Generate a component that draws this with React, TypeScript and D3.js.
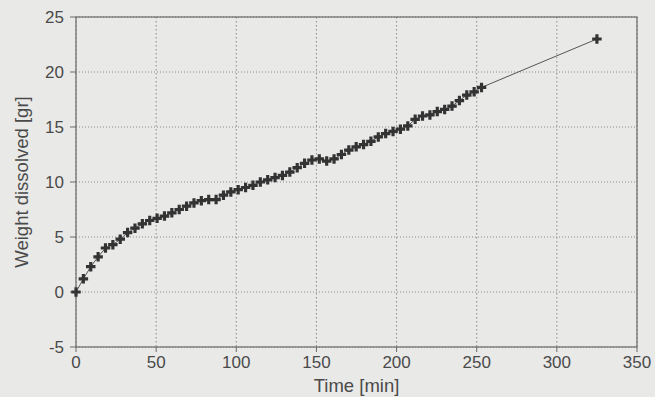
import React from "react";
import * as d3 from "d3";

const times: number[] = [0, 4.6, 9.2, 13.8, 18.4, 23, 27.6, 32.2, 36.8, 41.4, 46, 50.6, 55.2, 59.8, 64.4, 69, 73.6, 78.2, 82.8, 87.4, 92, 96.6, 101.2, 105.8, 110.4, 115, 119.6, 124.2, 128.8, 133.4, 138, 142.6, 147.2, 151.8, 156.4, 161, 165.6, 170.2, 174.8, 179.4, 184, 188.6, 193.2, 197.8, 202.4, 207, 211.6, 216.2, 220.8, 225.4, 230, 234.6, 239.2, 243.8, 248.4, 253, 325];
const weights: number[] = [0, 1.2, 2.3, 3.2, 4.0, 4.3, 4.8, 5.4, 5.8, 6.2, 6.5, 6.7, 6.9, 7.2, 7.5, 7.8, 8.1, 8.3, 8.4, 8.4, 8.8, 9.1, 9.3, 9.5, 9.7, 10.0, 10.2, 10.4, 10.6, 10.9, 11.3, 11.7, 12.0, 12.1, 11.9, 12.1, 12.5, 12.9, 13.2, 13.4, 13.7, 14.1, 14.4, 14.6, 14.8, 15.1, 15.7, 16.0, 16.1, 16.4, 16.6, 16.9, 17.4, 17.9, 18.2, 18.6, 23.0];
const xTicks: number[] = [0, 50, 100, 150, 200, 250, 300, 350];
const yTicks: number[] = [-5, 0, 5, 10, 15, 20, 25];
const xLabel = "Time [min]";
const yLabel = "Weight dissolved [gr]";

const W = 655;
const H = 397;
const L = 76, R = 637, T = 17, B = 347;

export default function App() {
  const x = d3.scaleLinear().domain([0, 350]).range([L, R]);
  const y = d3.scaleLinear().domain([-5, 25]).range([B, T]);
  const pts = times.map((t, i) => [t, weights[i]] as [number, number]);
  const line = d3.line<[number, number]>().x(d => x(d[0])).y(d => y(d[1]))(pts) || "";
  const sym = d3.symbol().type(d3.symbolCross).size(50)() || "";
  const textColor = "#4a4a4a";
  const font = "'Liberation Sans', Arial, sans-serif";
  return (
    <div style={{ position: "fixed", left: 0, top: 0 }}>
      <svg width={W} height={H} style={{ display: "block" }}>
        <rect x={0} y={0} width={W} height={H} fill="#e9e9e8" />
        {xTicks.map(t => (
          <line key={"gx" + t} x1={x(t)} x2={x(t)} y1={T} y2={B} stroke="#8a8a8a" strokeWidth={1} strokeDasharray="1.5,2.5" />
        ))}
        {yTicks.map(t => (
          <line key={"gy" + t} x1={L} x2={R} y1={y(t)} y2={y(t)} stroke="#8a8a8a" strokeWidth={1} strokeDasharray="1,2" />
        ))}
        <rect x={L} y={T} width={R - L} height={B - T} fill="none" stroke="#6a6a6a" strokeWidth={1.2} />
        {xTicks.map(t => (
          <g key={"tx" + t}>
            <line x1={x(t)} x2={x(t)} y1={B} y2={B + 5} stroke="#6a6a6a" strokeWidth={1} />
            <text x={x(t)} y={368} textAnchor="middle" fontSize={17} fontFamily={font} fill={textColor}>{t}</text>
          </g>
        ))}
        {yTicks.map(t => (
          <g key={"ty" + t}>
            <line x1={L - 6} x2={L} y1={y(t)} y2={y(t)} stroke="#6a6a6a" strokeWidth={1} />
            <text x={64} y={y(t)} dy="0.36em" textAnchor="end" fontSize={17} fontFamily={font} fill={textColor}>{t}</text>
          </g>
        ))}
        <path d={line} fill="none" stroke="#555" strokeWidth={1} />
        {pts.map((p, i) => (
          <path key={"m" + i} d={sym} transform={`translate(${x(p[0])},${y(p[1])})`} fill="#333" />
        ))}
        <text x={(L + R) / 2} y={392} textAnchor="middle" fontSize={18.5} fontFamily={font} fill={textColor}>{xLabel}</text>
        <text transform={`translate(28,${(T + B) / 2}) rotate(-90)`} textAnchor="middle" fontSize={18.5} fontFamily={font} fill={textColor}>{yLabel}</text>
      </svg>
    </div>
  );
}
